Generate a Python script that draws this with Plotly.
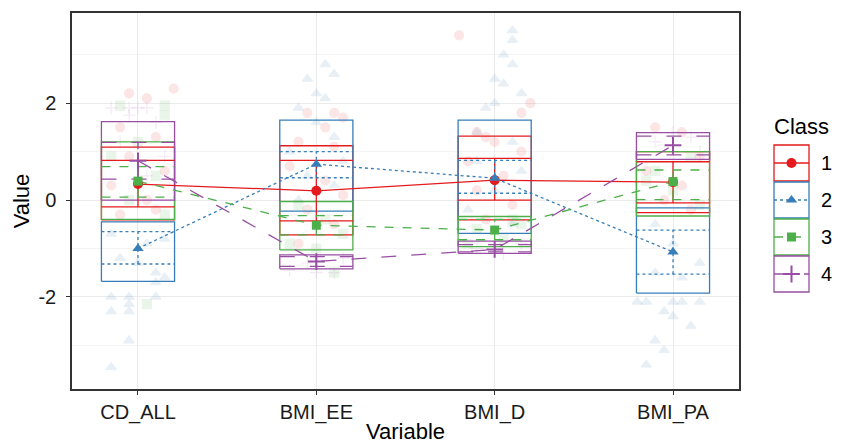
import plotly.graph_objects as go

variables = ["CD_ALL", "BMI_EE", "BMI_D", "BMI_PA"]
classes = ["1", "2", "3", "4"]
colors = ["#E41A1C", "#377EB8", "#4DAF4A", "#984EA3"]
dashes = ["solid", "dot", "dash", "longdash"]
symbols = ["circle", "triangle-up", "square", "cross-thin"]

# class means per variable
mean_1 = [0.33, 0.19, 0.41, 0.37]
mean_2 = [-1.00, 0.74, 0.45, -1.07]
mean_3 = [0.39, -0.52, -0.62, 0.38]
mean_4 = [0.81, -1.27, -1.02, 1.13]

# error bar (caps) limits
err_lo_1 = [-0.14, -0.43, 0.00, -0.06]
err_hi_1 = [0.82, 0.82, 0.86, 0.79]
err_lo_2 = [-1.32, 0.46, 0.14, -1.53]
err_hi_2 = [-0.65, 1.00, 0.82, -0.62]
err_lo_3 = [0.06, -0.72, -0.82, 0.01]
err_hi_3 = [0.69, -0.32, -0.40, 0.62]
err_lo_4 = [0.43, -1.37, -1.07, 0.93]
err_hi_4 = [1.19, -1.17, -0.92, 1.32]

# box limits
box_lo_1 = [-0.41, -0.72, -0.41, -0.26]
box_hi_1 = [1.09, 1.12, 1.32, 1.00]
box_lo_2 = [-1.68, -0.23, -0.69, -1.92]
box_hi_2 = [-0.45, 1.65, 1.65, -0.16]
box_lo_3 = [-0.40, -1.03, -0.96, -0.33]
box_hi_3 = [1.20, -0.03, -0.34, 1.00]
box_lo_4 = [0.00, -1.42, -1.10, 0.84]
box_hi_4 = [1.62, -1.13, -0.85, 1.39]

# faint individual observations: (variable index, jitter offset, value)
obs_1 = [(0, -0.05, 2.2), (0, 0.2, 2.3), (0, 0.05, 2.1), (0, -0.1, 1.5), (0, 0.1, 1.3), (0, -0.05, 0.9),
         (0, 0.15, 0.6), (0, -0.15, 0.3), (0, 0.05, 0.0), (0, -0.1, -0.3), (0, 0.1, -0.2),
         (1, 0.1, 1.8), (1, 0.15, 1.7), (1, -0.05, 1.8), (1, 0.05, 1.5), (1, -0.1, 1.2), (1, 0.1, 1.1),
         (1, -0.15, 0.7), (1, 0.05, 0.4), (1, 0.15, 0.1), (1, -0.05, -0.2), (1, 0.1, -0.5), (1, -0.1, -0.9),
         (2, -0.2, 3.4), (2, 0.2, 2.0), (2, 0.15, 1.8), (2, -0.1, 1.4), (2, -0.05, 1.3), (2, 0.0, 1.2),
         (2, 0.15, 1.0), (2, -0.15, 0.8), (2, 0.05, 0.5), (2, -0.1, 0.2), (2, 0.1, -0.1), (2, -0.05, -0.4),
         (3, -0.1, 1.5), (3, 0.05, 1.4), (3, 0.15, 0.9), (3, -0.15, 0.6), (3, 0.05, 0.3), (3, -0.05, 0.0),
         (3, 0.1, -0.2)]
obs_2 = [(0, -0.15, -2.0), (0, -0.05, -2.0), (0, 0.1, -2.0), (0, 0.15, -1.6), (0, -0.05, -2.15),
         (0, -0.15, -2.3), (0, -0.05, -2.3), (0, -0.05, -2.9), (0, -0.15, -3.45), (0, 0.1, -1.5),
         (0, 0.0, -1.3), (0, -0.1, -1.2), (0, 0.05, -0.9), (0, 0.15, -0.8), (0, -0.15, -0.7), (0, 0.1, -1.7),
         (1, 0.05, 2.8), (1, 0.1, 2.6), (1, -0.05, 2.5), (1, 0.0, 2.2), (1, 0.05, 2.1), (1, -0.1, 1.9),
         (1, 0.0, 1.6), (1, 0.1, 1.3), (1, -0.15, 1.0), (1, 0.15, 0.8), (1, -0.05, 0.5), (1, 0.1, 0.3),
         (1, -0.1, 0.0),
         (2, 0.1, 3.5), (2, 0.1, 3.3), (2, 0.05, 3.0), (2, 0.1, 2.8), (2, 0.0, 2.5), (2, 0.05, 2.4),
         (2, 0.15, 2.2), (2, 0.0, 2.0), (2, -0.05, 1.9), (2, -0.1, 1.4), (2, 0.1, 1.2), (2, -0.1, 0.8),
         (2, 0.15, 0.6), (2, 0.0, 0.2), (2, -0.15, -0.2), (2, 0.1, -0.5),
         (3, -0.15, -2.1), (3, 0.0, -2.1), (3, 0.05, -2.1), (3, -0.2, -2.1), (3, -0.05, -2.3),
         (3, 0.15, -2.1), (3, 0.0, -2.4), (3, 0.1, -2.6), (3, -0.1, -2.9), (3, -0.05, -3.1),
         (3, -0.15, -3.4), (3, 0.05, -1.6), (3, -0.1, -1.5), (3, 0.15, -1.3), (3, 0.0, -0.9), (3, -0.1, -0.5)]
obs_3 = [(0, 0.15, 1.95), (0, 0.15, 1.75), (0, -0.1, 1.95), (0, 0.0, 1.2), (0, -0.15, 0.9), (0, 0.1, 0.5),
         (0, -0.05, 0.0), (0, 0.15, -0.3), (0, 0.05, -2.15),
         (1, -0.1, -0.1), (1, 0.05, -0.4), (1, 0.15, -0.7), (1, -0.15, -0.9), (1, 0.0, -1.0), (1, 0.1, -1.5),
         (2, 0.1, -0.4), (2, -0.1, -0.6), (2, 0.05, -0.8), (2, -0.15, -0.9), (2, 0.15, -0.5),
         (3, 0.1, 0.9), (3, -0.1, 0.6), (3, 0.0, 0.2), (3, 0.15, -0.1), (3, -0.15, 0.4)]
obs_4 = [(0, -0.15, 1.9), (0, -0.05, 1.9), (0, 0.0, 1.9), (0, 0.05, 1.9), (0, -0.05, 1.75), (0, 0.1, 1.6),
         (0, -0.1, 1.2), (0, 0.15, 0.9), (0, 0.05, 0.5),
         (1, -0.15, -1.45), (1, 0.0, -1.5), (1, 0.1, -1.5), (1, -0.05, -1.3), (1, 0.15, -1.2),
         (2, -0.1, -1.0), (2, 0.05, -1.1), (2, 0.15, -0.9),
         (3, 0.0, 1.4), (3, 0.1, 1.3), (3, -0.1, 1.2), (3, 0.15, 1.0)]

means = [mean_1, mean_2, mean_3, mean_4]
err_lo = [err_lo_1, err_lo_2, err_lo_3, err_lo_4]
err_hi = [err_hi_1, err_hi_2, err_hi_3, err_hi_4]
box_lo = [box_lo_1, box_lo_2, box_lo_3, box_lo_4]
box_hi = [box_hi_1, box_hi_2, box_hi_3, box_hi_4]
obs = [obs_1, obs_2, obs_3, obs_4]

xpos = list(range(1, len(variables) + 1))
HW = 0.205  # half width of boxes / caps
LW = 1.3
MSIZE = [10, 10, 9, 12]
MLINE = [0, 0, 0, 2]

fig = go.Figure()

# faint jittered observations
for k in range(4):
    fig.add_trace(go.Scatter(
        x=[xpos[i] + dx for i, dx, v in obs[k]], y=[v for i, dx, v in obs[k]],
        mode="markers", showlegend=False, hoverinfo="skip",
        marker=dict(symbol=symbols[k], size=9, color=colors[k], opacity=0.11,
                    line=dict(width=1.2, color=colors[k]))))

# boxes (solid outlines)
for k in range(4):
    xs, ys = [], []
    for i in range(len(variables)):
        c = xpos[i]
        xs += [c - HW, c + HW, c + HW, c - HW, c - HW, None]
        ys += [box_lo[k][i], box_lo[k][i], box_hi[k][i], box_hi[k][i], box_lo[k][i], None]
    fig.add_trace(go.Scatter(x=xs, y=ys, mode="lines", showlegend=False, hoverinfo="skip",
                             line=dict(color=colors[k], width=LW)))

# error bars with full-width caps
for k in range(4):
    xs, ys = [], []
    for i in range(len(variables)):
        c = xpos[i]
        xs += [c - HW, c + HW, None, c - HW, c + HW, None, c, c, None]
        ys += [err_lo[k][i], err_lo[k][i], None, err_hi[k][i], err_hi[k][i], None,
               err_lo[k][i], err_hi[k][i], None]
    fig.add_trace(go.Scatter(x=xs, y=ys, mode="lines", showlegend=False, hoverinfo="skip",
                             line=dict(color=colors[k], width=LW, dash=dashes[k])))

# lines connecting class means + mean markers
for k in range(4):
    fig.add_trace(go.Scatter(x=xpos, y=means[k], mode="lines", showlegend=False,
                             line=dict(color=colors[k], width=LW, dash=dashes[k])))
for k in range(4):
    fig.add_trace(go.Scatter(x=xpos, y=means[k], mode="markers", showlegend=False,
                             marker=dict(symbol=symbols[k], size=MSIZE[k], color=colors[k],
                                         line=dict(width=MLINE[k], color=colors[k]))))

# manual ggplot-style legend drawn on a pixel-scaled side axis (x2/y2)
key_x0, key_x1 = 35, 70
key_top = [244, 207, 170, 133]
key_h = 36
shapes = []
for k in range(4):
    y1 = key_top[k]
    y0 = y1 - key_h
    ym = (y0 + y1) / 2
    shapes.append(dict(type="rect", xref="x2", yref="y2", x0=key_x0, x1=key_x1, y0=y0, y1=y1,
                       line=dict(color=colors[k], width=LW), fillcolor="rgba(0,0,0,0)", layer="above"))
    shapes.append(dict(type="line", xref="x2", yref="y2", x0=key_x0, x1=key_x1, y0=ym, y1=ym,
                       line=dict(color=colors[k], width=LW, dash=dashes[k]), layer="above"))
    fig.add_trace(go.Scatter(x=[(key_x0 + key_x1) / 2], y=[ym], xaxis="x2", yaxis="y2", mode="markers",
                             showlegend=False, hoverinfo="skip", cliponaxis=False,
                             marker=dict(symbol=symbols[k], size=MSIZE[k], color=colors[k],
                                         line=dict(width=MLINE[k], color=colors[k]))))
    fig.add_annotation(x=80, y=ym, xref="x2", yref="y2", text=classes[k],
                       showarrow=False, xanchor="left", yanchor="middle",
                       font=dict(size=20, color="#000000"))
fig.add_annotation(x=33, y=263, xref="x2", yref="y2", text="Class",
                   showarrow=False, xanchor="left", yanchor="middle",
                   font=dict(size=22, color="#000000"))

DOM = 667 / 769

# the page adds an 8px body margin, so the figure is 8px smaller and margins 8px tighter
fig.update_layout(
    width=833, height=440,
    margin=dict(l=64, r=0, t=5, b=59, autoexpand=False),
    paper_bgcolor="white", plot_bgcolor="white",
    font=dict(family="Liberation Sans, Arial, sans-serif"),
    shapes=shapes,
    xaxis=dict(domain=[0, DOM], range=[0.63, 4.37], tickvals=xpos, ticktext=variables, showgrid=True,
               gridcolor="#EBEBEB", gridwidth=1, zeroline=False, showline=True, mirror=True,
               linecolor="#333333", linewidth=1.5, ticks="outside", ticklen=4, tickcolor="#333333",
               tickfont=dict(size=20, color="#1a1a1a"), automargin=False, ticklabelstandoff=0,
               title=dict(text="Variable", font=dict(size=22, color="#000000"), standoff=1)),
    yaxis=dict(range=[-3.9, 3.86], tickvals=[-2, 0, 2], ticktext=["-2", "0", "2"], showgrid=True,
               gridcolor="#EBEBEB", gridwidth=1, zeroline=False, showline=True, mirror=True,
               linecolor="#333333", linewidth=1.5, ticks="outside", ticklen=4, tickcolor="#333333",
               tickfont=dict(size=20, color="#1a1a1a"), automargin=False, ticklabelstandoff=6,
               minor=dict(tickvals=[-3, -1, 1, 3], showgrid=True, gridcolor="#F3F3F3", gridwidth=1,
                          ticks=""),
               title=dict(text="Value", font=dict(size=22, color="#000000"), standoff=3)),
    xaxis2=dict(domain=[DOM, 1], range=[0, 102], anchor="y2", visible=False, fixedrange=True),
    yaxis2=dict(domain=[0, 1], range=[0, 376], anchor="x2", visible=False, fixedrange=True),
)
fig.write_html("out.html")
